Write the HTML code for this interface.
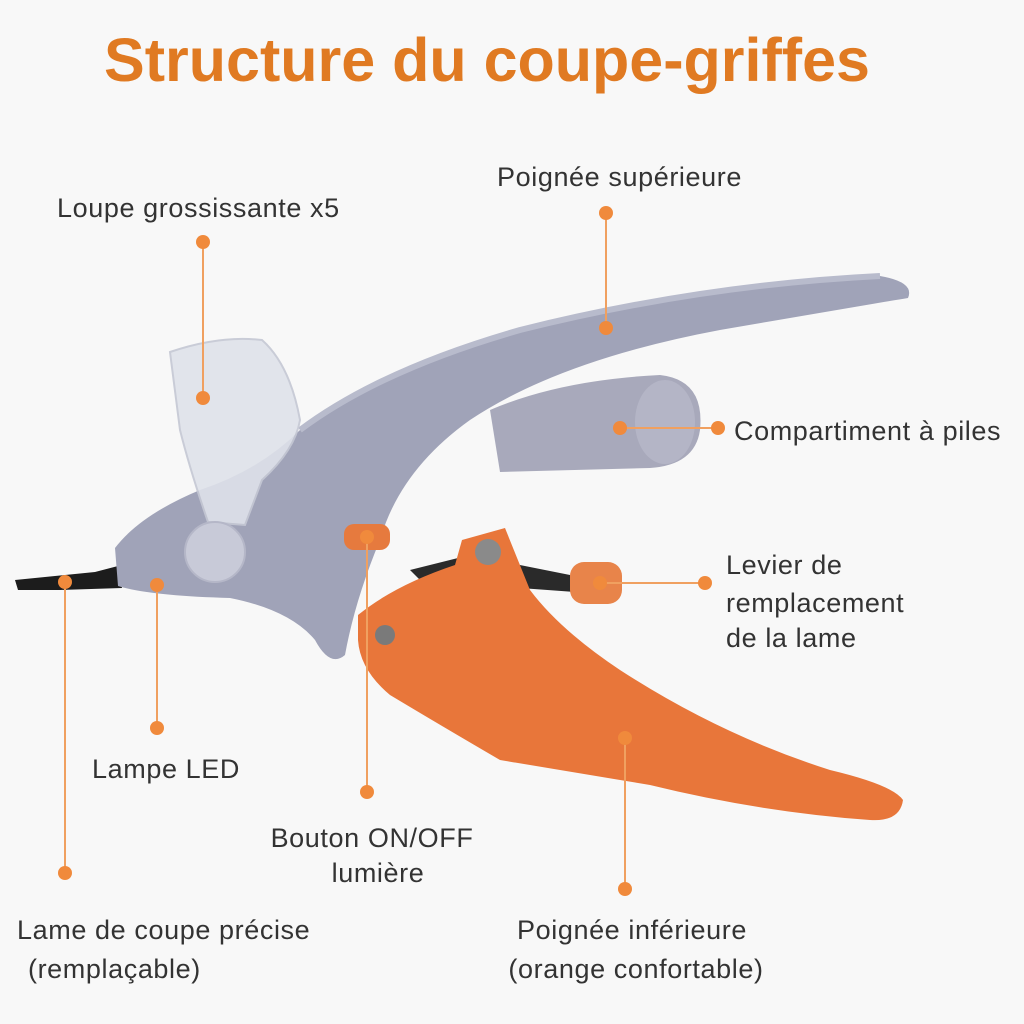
<!DOCTYPE html>
<html><head><meta charset="utf-8"><style>
html,body{margin:0;padding:0;background:#f8f8f8;}
svg{display:block}
</style></head><body>
<svg width="1024" height="1024" viewBox="0 0 1024 1024" xmlns="http://www.w3.org/2000/svg">
<rect width="1024" height="1024" fill="#f8f8f8"/>
<text x="487" y="81" text-anchor="middle" font-family="Liberation Sans, sans-serif" font-weight="bold" font-size="61" fill="#e07a22">Structure du coupe-griffes</text>

<!-- blade -->
<path d="M15,580 L95,572 L118,566 L122,588 L60,590 L18,590 Z" fill="#1c1c1c"/>
<path d="M410,570 L470,555 L570,575 L575,592 L520,588 L420,580 Z" fill="#2a2a2a"/>
<!-- battery compartment -->
<path d="M490,410 Q560,380 660,375 Q705,380 700,430 Q695,465 650,468 L500,472 Z" fill="#a8a9bb"/>
<ellipse cx="665" cy="422" rx="30" ry="42" fill="#b4b5c6"/>
<!-- upper handle -->
<path d="M115,548 Q140,515 200,490 Q260,470 300,430 Q380,370 520,330 Q700,285 880,276 Q915,282 908,298 Q860,306 720,330 Q560,360 470,420 Q400,470 380,540 Q355,600 345,655 Q330,668 315,640 Q290,610 230,598 Q150,596 118,586 Z" fill="#a0a3b8"/>
<path d="M300,430 Q380,370 520,330 Q700,285 880,276" fill="none" stroke="#b8bbcc" stroke-width="6"/>
<!-- lens -->
<path d="M170,352 Q220,335 262,340 Q290,365 300,420 Q295,450 262,480 L245,525 L208,522 Q190,470 180,430 Z" fill="#dfe2ea" stroke="#c5c8d4" stroke-width="2" opacity="0.9"/>
<circle cx="215" cy="552" r="30" fill="#c8cad8" stroke="#b5b7c8" stroke-width="2"/>
<!-- small orange button -->
<rect x="344" y="524" width="46" height="26" rx="10" fill="#e67a3e"/>
<!-- lever tab -->
<rect x="570" y="562" width="52" height="42" rx="14" fill="#e8844a"/>
<!-- orange lower handle -->
<path d="M358,615 Q395,585 455,565 L462,540 L505,528 L530,590 Q560,630 620,670 Q720,735 830,770 Q893,785 903,800 Q900,822 870,820 Q760,812 650,785 Q560,770 500,760 Q440,725 390,695 Q360,670 358,640 Z" fill="#e8763a"/>
<circle cx="488" cy="552" r="13" fill="#8a8a8a"/>
<circle cx="385" cy="635" r="10" fill="#7a7a7a"/>

<!-- connectors -->
<g stroke="#f0a060" stroke-width="2" fill="#f08a3c">
<line x1="203" y1="242" x2="203" y2="398"/>
<line x1="606" y1="213" x2="606" y2="328"/>
<line x1="620" y1="428" x2="718" y2="428"/>
<line x1="367" y1="537" x2="367" y2="792"/>
<line x1="157" y1="585" x2="157" y2="728"/>
<line x1="65" y1="582" x2="65" y2="873"/>
<line x1="600" y1="583" x2="705" y2="583"/>
<line x1="625" y1="738" x2="625" y2="889"/>
</g>
<g fill="#f08a3c">
<circle cx="203" cy="242" r="7"/><circle cx="203" cy="398" r="7"/>
<circle cx="606" cy="213" r="7"/><circle cx="606" cy="328" r="7"/>
<circle cx="620" cy="428" r="7"/><circle cx="718" cy="428" r="7"/>
<circle cx="367" cy="537" r="7"/><circle cx="367" cy="792" r="7"/>
<circle cx="157" cy="585" r="7"/><circle cx="157" cy="728" r="7"/>
<circle cx="65" cy="582" r="7"/><circle cx="65" cy="873" r="7"/>
<circle cx="600" cy="583" r="7"/><circle cx="705" cy="583" r="7"/>
<circle cx="625" cy="738" r="7"/><circle cx="625" cy="889" r="7"/>
</g>

<g font-family="Liberation Sans, sans-serif" font-size="27" fill="#333" letter-spacing="0.6">
<text x="57" y="217">Loupe grossissante x5</text>
<text x="497" y="186">Poignée supérieure</text>
<text x="734" y="440">Compartiment à piles</text>
<text x="726" y="574">Levier de</text>
<text x="726" y="612">remplacement</text>
<text x="726" y="647">de la lame</text>
<text x="92" y="778">Lampe LED</text>
<text x="372" y="847" text-anchor="middle">Bouton ON/OFF</text>
<text x="378" y="882" text-anchor="middle">lumière</text>
<text x="17" y="939">Lame de coupe précise</text>
<text x="28" y="978">(remplaçable)</text>
<text x="632" y="939" text-anchor="middle">Poignée inférieure</text>
<text x="636" y="978" text-anchor="middle">(orange confortable)</text>
</g>
</svg>
</body></html>
